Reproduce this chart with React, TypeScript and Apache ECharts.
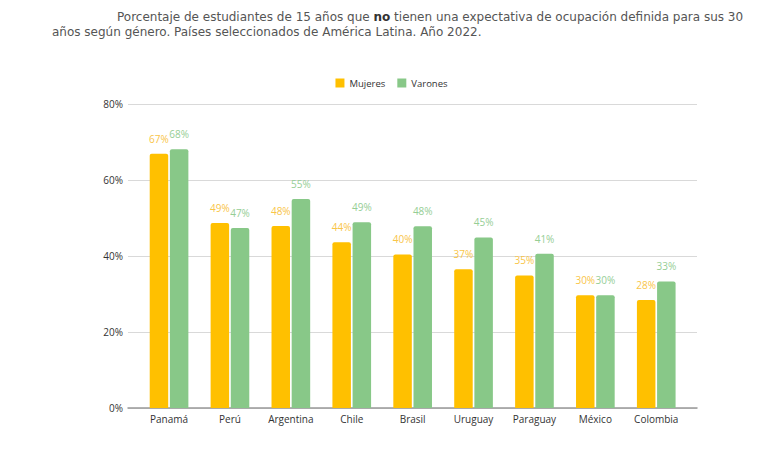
import React, { useEffect, useRef } from "react";
import * as echarts from "echarts";

const categories = ["Panamá", "Perú", "Argentina", "Chile", "Brasil", "Uruguay", "Paraguay", "México", "Colombia"];
const mujeres = [66.9, 48.7, 47.9, 43.6, 40.4, 36.5, 34.9, 29.7, 28.4];
const varones = [68.1, 47.4, 55.0, 48.9, 47.8, 44.9, 40.6, 29.7, 33.3];
const yTicks = { min: 0, max: 80, interval: 20 };

const ORANGE = "#FFC000";
const GREEN = "#88C888";
const ORANGE_LABEL = "#F9C548";
const GREEN_LABEL = "#96CE95";
const FONT = "Open Sans";
const TITLE_FONT = "DejaVu Sans";

export default function App() {
  const ref = useRef<HTMLDivElement>(null);
  useEffect(() => {
    if (!ref.current) return;
    const chart = echarts.init(ref.current, undefined, { renderer: "svg" });
    const label = (color: string) => ({
      show: true,
      position: "top" as const,
      distance: 10,
      color,
      fontSize: 10,
      fontFamily: FONT,
      formatter: (p: any) => Math.round(p.value) + "%",
    });
    chart.setOption({
      animation: false,
      backgroundColor: "#ffffff",
      textStyle: { fontFamily: FONT },
      graphic: [
        {
          type: "text",
          left: 117,
          top: 10,
          style: {
            text: "Porcentaje de estudiantes de 15 años que {b|no} tienen una expectativa de ocupación definida para sus 30",
            fontSize: 12,
            lineHeight: 14,
            fontFamily: TITLE_FONT,
            fill: "#555555",
            rich: { b: { fontWeight: "bold", fontSize: 12, lineHeight: 14, fontFamily: TITLE_FONT, fill: "#333333", color: "#333333" } },
          },
        },
        {
          type: "text",
          left: 52,
          top: 25,
          style: {
            text: "años según género. Países seleccionados de América Latina. Año 2022.",
            fontSize: 12,
            lineHeight: 14,
            fontFamily: TITLE_FONT,
            fill: "#555555",
          },
        },
      ],
      legend: {
        top: 73,
        left: "center",
        itemWidth: 9,
        itemHeight: 9,
        itemGap: 12,
        icon: "rect",
        textStyle: { fontSize: 9.5, color: "#333333", fontFamily: FONT },
        data: ["Mujeres", "Varones"],
      },
      grid: [
        { left: 128, right: 86, top: 104, bottom: 42 },
        { left: 138.6, right: 96.3, top: 104, bottom: 42 },
      ],
      xAxis: [
        {
          gridIndex: 0,
          type: "value",
          min: 0,
          max: 1,
          axisLine: { show: true, onZero: false, lineStyle: { color: "#999999", width: 1.5 } },
          axisTick: { show: false },
          axisLabel: { show: false },
          splitLine: { show: false },
        },
        {
          gridIndex: 1,
          type: "category",
          data: categories,
          axisLine: { show: false },
          axisTick: { show: false },
          axisLabel: { fontSize: 10, color: "#333333", margin: 6, fontFamily: FONT },
        },
      ],
      yAxis: [
        {
          gridIndex: 0,
          type: "value",
          min: yTicks.min,
          max: yTicks.max,
          interval: yTicks.interval,
          axisLabel: { formatter: "{value}%", fontSize: 10, color: "#333333", margin: 5, fontFamily: FONT },
          axisLine: { show: false },
          axisTick: { show: false },
          splitLine: { lineStyle: { color: "#D9D9D9", width: 1 } },
        },
        {
          gridIndex: 1,
          type: "value",
          min: yTicks.min,
          max: yTicks.max,
          interval: yTicks.interval,
          show: false,
          splitLine: { show: false },
        },
      ],
      series: [
        {
          name: "Mujeres",
          type: "bar",
          xAxisIndex: 1,
          yAxisIndex: 1,
          data: mujeres,
          barWidth: 18.5,
          barGap: "9%",
          itemStyle: { color: ORANGE, borderRadius: [2, 2, 0, 0] },
          label: label(ORANGE_LABEL),
        },
        {
          name: "Varones",
          type: "bar",
          xAxisIndex: 1,
          yAxisIndex: 1,
          data: varones,
          barWidth: 18.5,
          barGap: "9%",
          itemStyle: { color: GREEN, borderRadius: [2, 2, 0, 0] },
          label: label(GREEN_LABEL),
        },
      ],
    });
    return () => chart.dispose();
  }, []);
  return (
    <div
      ref={ref}
      style={{ position: "fixed", left: 0, top: 0, width: 783, height: 450 }}
    />
  );
}
